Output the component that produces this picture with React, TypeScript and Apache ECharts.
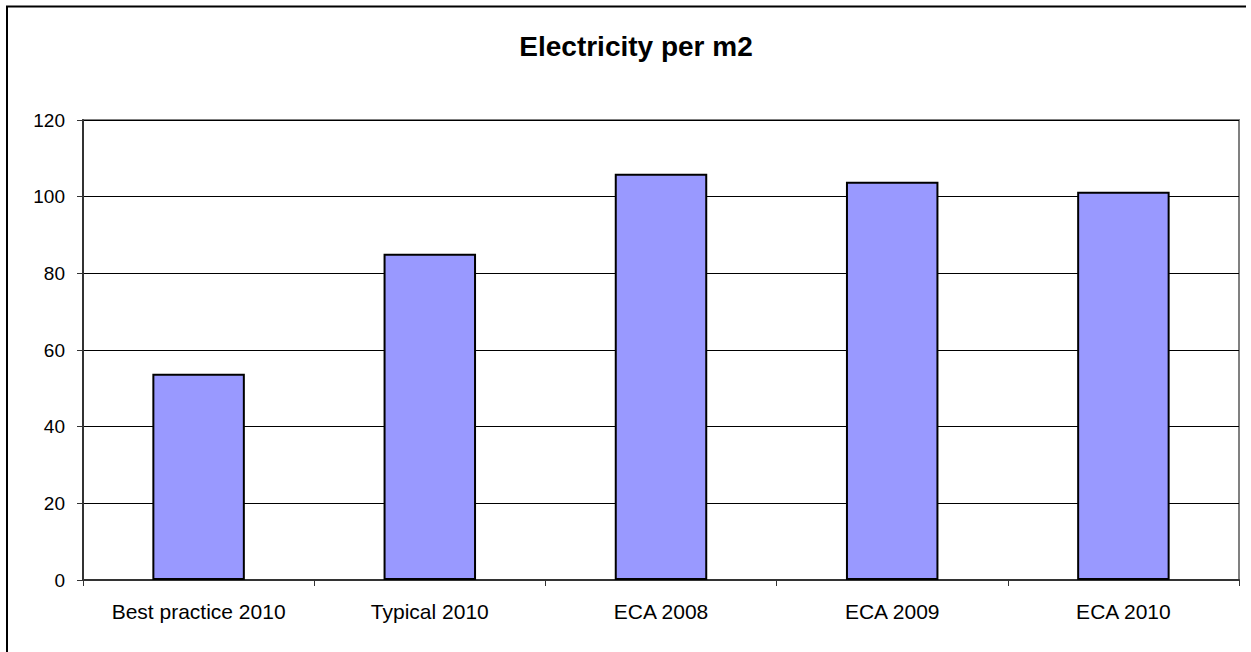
import React, { useEffect, useRef } from "react";
import * as echarts from "echarts";

const categories = ["Best practice 2010", "Typical 2010", "ECA 2008", "ECA 2009", "ECA 2010"];
const electricity = [53.8, 85.1, 106.0, 103.9, 101.3];
const yTicks = { min: 0, max: 120, interval: 20 };
const titleText = "Electricity per m2";

export default function App() {
  const ref = useRef<HTMLDivElement>(null);

  useEffect(() => {
    document.body.style.margin = "0";
    if (!ref.current) return;
    const chart = echarts.init(ref.current, null, { renderer: "svg" });
    const font = "Arial, 'Liberation Sans', sans-serif";
    chart.setOption({
      animation: false,
      backgroundColor: "#ffffff",
      title: {
        text: titleText,
        left: 631,
        textAlign: "center",
        top: 27,
        textStyle: { fontFamily: font, fontWeight: "bold", fontSize: 28, color: "#000" },
      },
      graphic: [
        {
          type: "polyline",
          shape: { points: [[7, 700], [7, 6.5], [1246, 6.5]] },
          style: { stroke: "#000", lineWidth: 2, fill: "none" },
          silent: true,
        },
      ],
      grid: {
        left: 83,
        right: 12,
        top: 120,
        bottom: 72,
        show: true,
        borderColor: "#808080",
        borderWidth: 2,
      },
      xAxis: {
        type: "category",
        data: categories,
        axisLine: { lineStyle: { color: "#333", width: 2 } },
        axisTick: { show: true, interval: 0, length: 6, lineStyle: { color: "#333" } },
        axisLabel: {
          interval: 0,
          hideOverlap: false,
          fontFamily: font,
          fontSize: 21,
          color: "#000",
          margin: 21,
        },
      },
      yAxis: {
        type: "value",
        min: yTicks.min,
        max: yTicks.max,
        interval: yTicks.interval,
        axisLine: { show: true, lineStyle: { color: "#333", width: 2 } },
        axisTick: { show: true, length: 6, lineStyle: { color: "#333" } },
        axisLabel: { fontFamily: font, fontSize: 19, color: "#000", margin: 18 },
        splitLine: { show: true, lineStyle: { color: "#000", width: 1 } },
      },
      series: [
        {
          type: "bar",
          data: electricity,
          barWidth: "40%",
          itemStyle: { color: "#9999FF", borderColor: "#000", borderWidth: 2 },
        },
      ],
    });
    return () => chart.dispose();
  }, []);

  return <div ref={ref} style={{ width: 1251, height: 652 }} />;
}
